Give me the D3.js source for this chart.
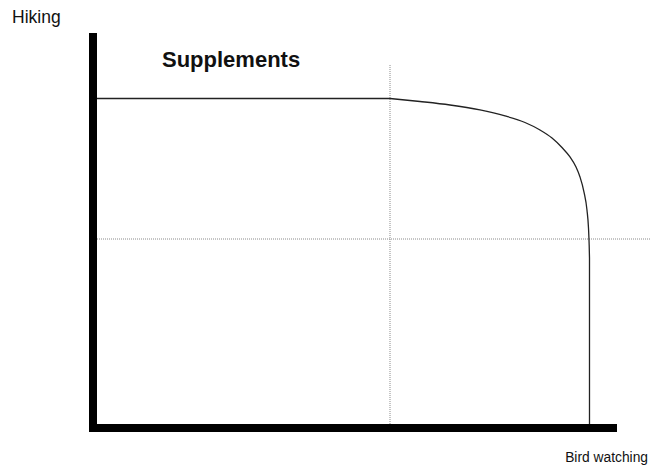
<!DOCTYPE html>
<html>
<head>
<meta charset="utf-8">
<script src="https://cdn.jsdelivr.net/npm/d3@7"></script>
<style>
  html, body { margin: 0; padding: 0; background: #fff; }
  svg { display: block; }
  text { font-family: "Liberation Sans", Arial, sans-serif; fill: #111; }
</style>
</head>
<body>
<svg id="chart" width="652" height="466"></svg>
<script>
// ---- data (chart units: 0..100 on each axis) ----
const xLabel = "Bird watching";
const yLabel = "Hiking";
const title = "Supplements";

// flat part of the constraint
const flatX = [0, 56.68];
const flatY = [83.84, 83.84];

// curved part
const curveX = [56.68, 62.40, 68.13, 73.85, 78.63, 82.44, 85.31, 87.60, 89.50, 91.03, 92.18, 92.94, 93.70, 94.27, 94.56, 94.69, 94.75];
const curveY = [83.84, 83.08, 82.19, 80.92, 79.39, 77.74, 75.83, 73.79, 71.37, 68.96, 66.41, 63.87, 60.05, 55.47, 50.89, 46.56, 43.26];

// vertical drop to the x axis
const dropX = [94.75, 94.75];
const dropY = [43.26, 0];

// dotted reference lines
const refVX = 56.68, refVTop = 92.37;
const refHY = 48.09, refHRight = 106.3;

// axis extents
const xAxisEnd = 100;
const yAxisEnd = 100.5;

// ---- drawing ----
const svg = d3.select("#chart");
const x = d3.scaleLinear().domain([0, 100]).range([93, 617]);
const y = d3.scaleLinear().domain([0, 100]).range([428, 35]);

const lineGen = d3.line().x(d => x(d[0])).y(d => y(d[1]));
const curveGen = d3.line().x(d => x(d[0])).y(d => y(d[1])).curve(d3.curveMonotoneX);

// dotted lines
svg.append("line")
  .attr("x1", x(refVX)).attr("x2", x(refVX))
  .attr("y1", y(refVTop)).attr("y2", y(0))
  .attr("stroke", "#8a8a8a").attr("stroke-width", 1).attr("stroke-dasharray", "1,1");
svg.append("line")
  .attr("x1", x(0)).attr("x2", x(refHRight))
  .attr("y1", y(refHY)).attr("y2", y(refHY))
  .attr("stroke", "#8a8a8a").attr("stroke-width", 1).attr("stroke-dasharray", "1,1");

// constraint
svg.append("path")
  .attr("d", lineGen(flatX.map((v, i) => [v, flatY[i]])))
  .attr("fill", "none").attr("stroke", "#222").attr("stroke-width", 1.3);
svg.append("path")
  .attr("d", curveGen(curveX.map((v, i) => [v, curveY[i]])))
  .attr("fill", "none").attr("stroke", "#222").attr("stroke-width", 1.3);
svg.append("path")
  .attr("d", lineGen(dropX.map((v, i) => [v, dropY[i]])))
  .attr("fill", "none").attr("stroke", "#222").attr("stroke-width", 1.3);

// thick axes
svg.append("line")
  .attr("x1", x(0)).attr("x2", x(0))
  .attr("y1", y(yAxisEnd)).attr("y2", y(0) + 4)
  .attr("stroke", "#000").attr("stroke-width", 8);
svg.append("line")
  .attr("x1", x(0) - 4).attr("x2", x(xAxisEnd))
  .attr("y1", y(0)).attr("y2", y(0))
  .attr("stroke", "#000").attr("stroke-width", 8);

// labels
svg.append("text").attr("x", 12).attr("y", 23).attr("font-size", 17.5).text(yLabel);
svg.append("text").attr("x", 648).attr("y", 462).attr("font-size", 13.8).attr("text-anchor", "end").text(xLabel);
svg.append("text").attr("x", 162).attr("y", 67).attr("font-size", 22).attr("font-weight", "bold").text(title);
</script>
</body>
</html>
